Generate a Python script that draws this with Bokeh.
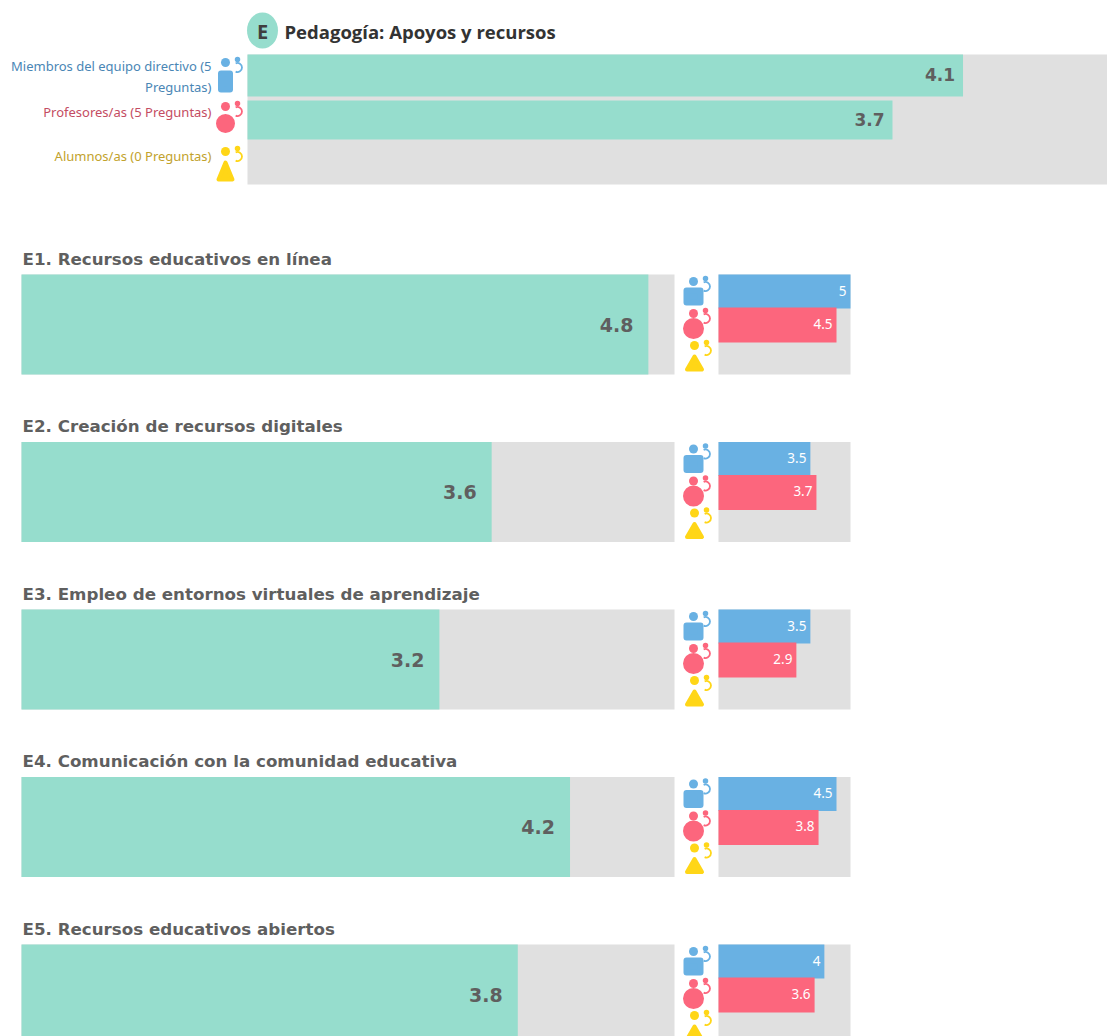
from bokeh.plotting import figure
from bokeh.embed import file_html
from bokeh.resources import INLINE
from bokeh.core.properties import value

# ---- data
title = "Pedagogía: Apoyos y recursos"
badge = "E"
role_labels = ["Miembros del equipo directivo (5\nPreguntas)", "Profesores/as (5 Preguntas)", "Alumnos/as (0 Preguntas)"]
overall_values = [4.16, 3.75, 0.0]
overall_labels = ["4.1", "3.7", ""]
sections = ["E1. Recursos educativos en línea", "E2. Creación de recursos digitales",
            "E3. Empleo de entornos virtuales de aprendizaje",
            "E4. Comunicación con la comunidad educativa", "E5. Recursos educativos abiertos"]
section_values = [4.8, 3.6, 3.2, 4.2, 3.8]
section_labels = ["4.8", "3.6", "3.2", "4.2", "3.8"]
leader_values = [5.0, 3.48, 3.48, 4.47, 4.01]
leader_labels = ["5", "3.5", "3.5", "4.5", "4"]
teacher_values = [4.47, 3.71, 2.95, 3.79, 3.64]
teacher_labels = ["4.5", "3.7", "2.9", "3.8", "3.6"]
max_score = 5.0

# ---- style
TEAL, GREY, BLUE, RED, YEL = "#96DDCD", "#E0E0E0", "#69B1E3", "#FC667D", "#FFD617"
TXT = "#5F5F5F"
role_text = ["#4A86B5", "#C44C62", "#C2A22C"]
FONT = value("Noto Sans")
BOLD = value("DejaVu Sans")

WIN_W, WIN_H = 1107, 1036
p = figure(width=WIN_W, height=WIN_H, x_range=(0, WIN_W), y_range=(WIN_H, 0),
           output_backend="svg", toolbar_location=None, min_border=0, outline_line_color=None)
p.axis.visible = False
p.grid.visible = False


def bar(x0, width, top, bottom, v, color, vmax=max_score):
    p.quad(left=x0, right=x0 + width * v / vmax, top=top, bottom=bottom, fill_color=color, line_color=None)


def person(cx, cy, color, shape, half_w, up, down, head_up):
    """Icon: large figure with a small companion, drawn around an anchor point."""
    head_y = cy - head_up
    p.scatter([cx], [head_y], size=9, marker="circle", fill_color=color, line_color=None)
    if shape == "box":
        p.quad(left=cx - half_w + 3, right=cx + half_w - 3, top=cy - up + 3, bottom=cy + down - 3,
               fill_color=color, line_color=color, line_width=6, line_join="round")
    elif shape == "circle":
        p.scatter([cx], [cy + (down - up) / 2], size=2 * half_w, marker="circle", fill_color=color, line_color=None)
    else:
        p.patch([cx - half_w + 2, cx, cx + half_w - 2], [cy + down - 2, cy - up + 2, cy + down - 2],
                fill_color=color, line_color=color, line_width=4, line_join="round")
    p.scatter([cx + 12], [head_y - 3], size=5.5, marker="circle", fill_color=color, line_color=None)
    p.arc([cx + 12], [cy - head_up + 5], radius=4.5, start_angle=-2.0, end_angle=2.0, line_color=color, line_width=1.8)


# ---- header
X0, W0 = 247, 860
p.ellipse([262], [30], width=31, height=36, fill_color=TEAL, line_color=None)
p.text([262], [31], text=[badge], text_font=value("Open Sans"), text_font_style="bold", text_font_size="20px",
       text_color="#3F3F3F", text_align="center", text_baseline="middle")
p.text([284], [31], text=[title], text_font=value("Open Sans"), text_font_style="bold", text_font_size="18.5px",
       text_color="#333333", text_align="left", text_baseline="middle")

bar(X0, W0, 54, 184, max_score, GREY)
row_tops, row_bottoms = [54, 100, 139], [96, 139, 184]
label_ys = [65, 111, 155]
icon_ys = [78, 121, 167]
shapes = ["box", "circle", "tri"]
colors = [BLUE, RED, YEL]
top_icon = [(7.5, 8, 14, 16), (9.5, 8, 12, 15), (9, 7, 14, 16)]
for i in range(3):
    if overall_values[i] > 0:
        bar(X0, W0, row_tops[i], row_bottoms[i], overall_values[i], TEAL)
        xe = X0 + W0 * overall_values[i] / max_score
        p.text([xe - 8], [(row_tops[i] + row_bottoms[i]) / 2 - 1], text=[overall_labels[i]], text_font=BOLD,
               text_font_style="bold", text_font_size="17px", text_color=TXT, text_align="right", text_baseline="middle")
    for k, line in enumerate(role_labels[i].split("\n")):
        p.text([211], [label_ys[i] + k * 21], text=[line], text_font=FONT, text_font_size="13px",
               text_color=role_text[i], text_align="right", text_baseline="middle")
    person(225, icon_ys[i], colors[i], shapes[i], *top_icon[i])

# ---- sections
SX0, SW = 21, 653
MX0, MW = 718, 132
TOP, PITCH, H = 274, 167.5, 100
for i, name in enumerate(sections):
    t = TOP + i * PITCH
    p.text([22], [t - 16], text=[name], text_font=BOLD, text_font_style="bold", text_font_size="16.7px",
           text_color=TXT, text_align="left", text_baseline="middle")
    bar(SX0, SW, t, t + H, max_score, GREY)
    bar(SX0, SW, t, t + H, section_values[i], TEAL)
    xe = SX0 + SW * section_values[i] / max_score
    p.text([xe - 15], [t + 50], text=[section_labels[i]], text_font=BOLD, text_font_style="bold",
           text_font_size="19px", text_color=TXT, text_align="right", text_baseline="middle")
    bar(MX0, MW, t, t + H, max_score, GREY)
    bar(MX0, MW, t, t + 34, leader_values[i], BLUE)
    bar(MX0, MW, t + 33, t + 68, teacher_values[i], RED)
    for v, lab, yy in ((leader_values[i], leader_labels[i], t + 16), (teacher_values[i], teacher_labels[i], t + 49)):
        p.text([MX0 + MW * v / max_score - 4], [yy], text=[lab], text_font=FONT,
               text_font_size="13.5px", text_color="#FFFFFF", text_align="right", text_baseline="middle")
    person(693, t + 21, BLUE, "box", 10, 8, 10, 14)
    person(693, t + 54, RED, "circle", 10.5, 10, 10, 15)
    person(694, t + 85, YEL, "tri", 9.5, 5, 12, 14)

open("out.html", "w").write(file_html(p, INLINE))
